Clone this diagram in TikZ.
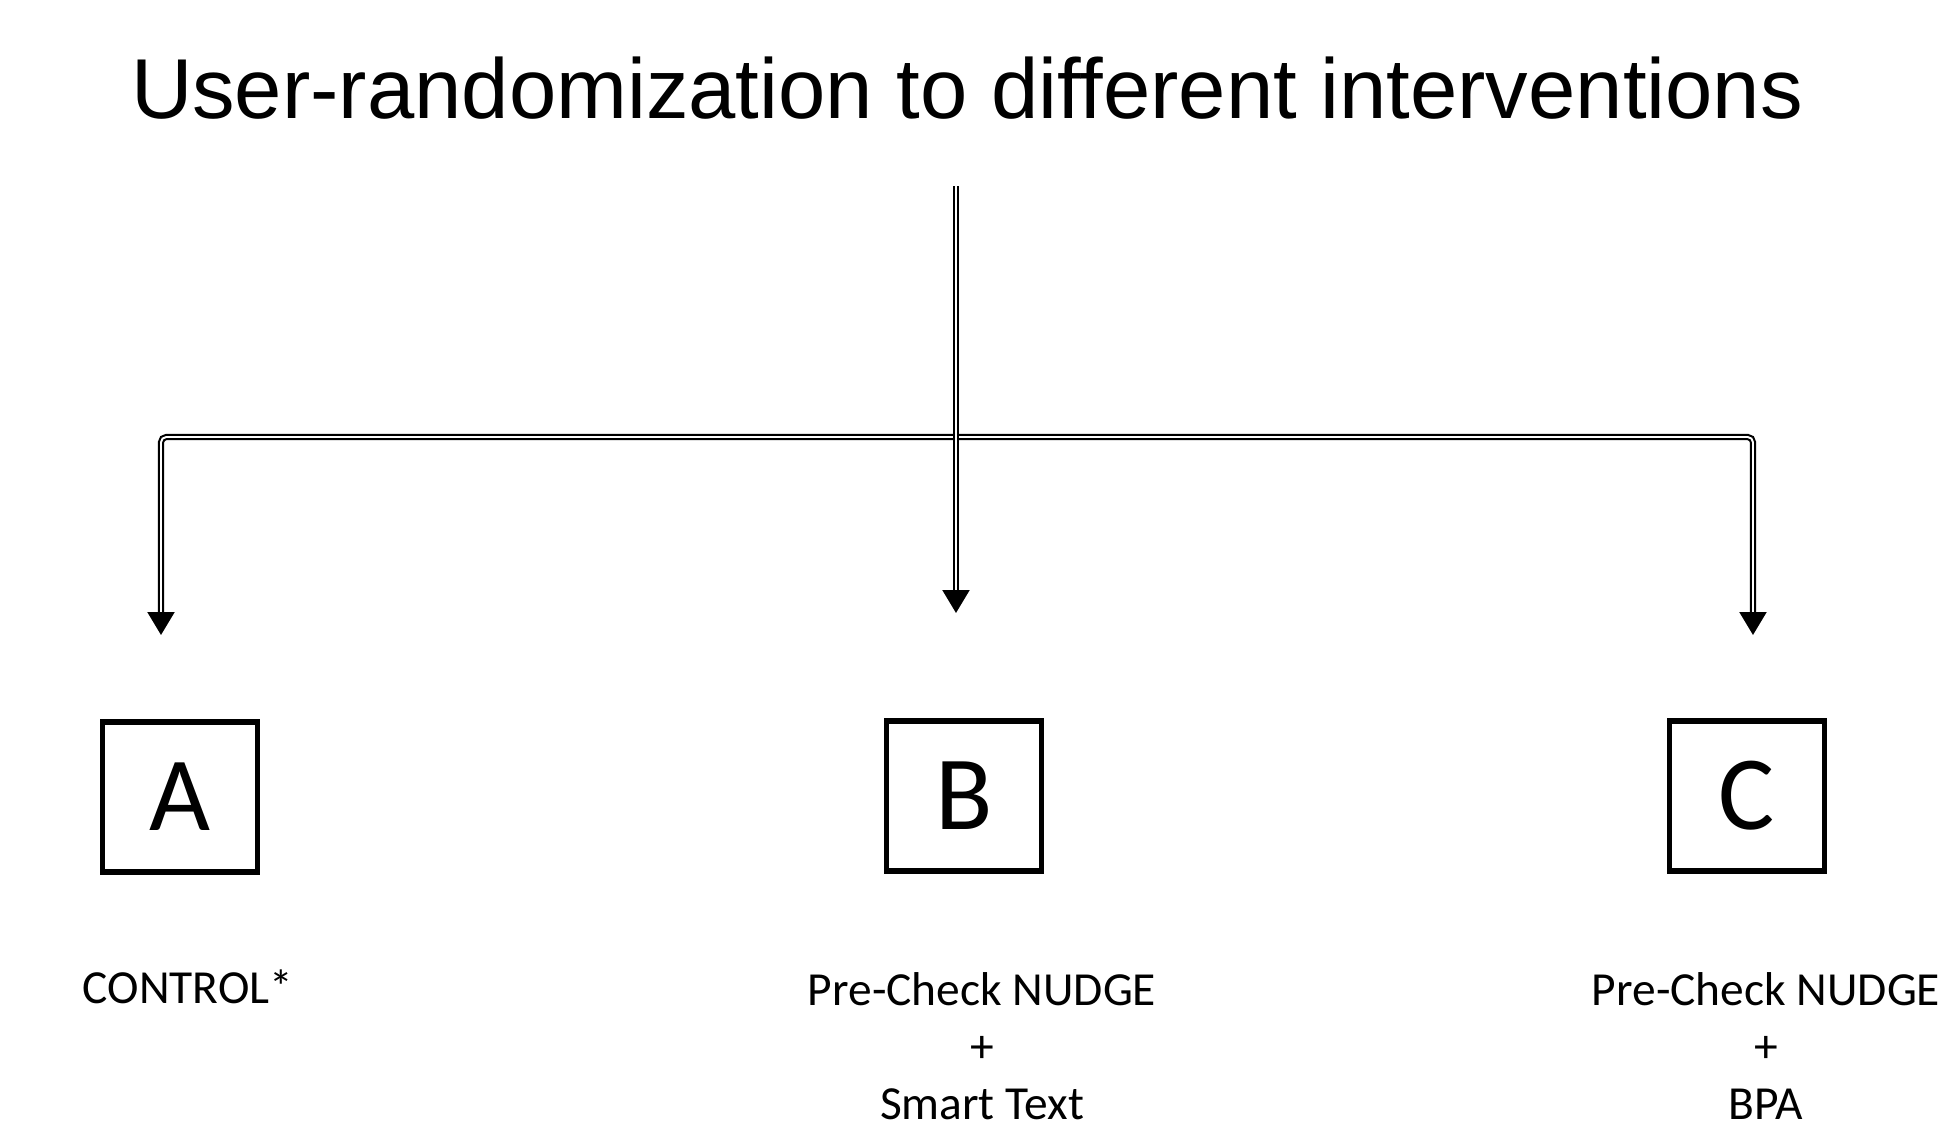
\documentclass[tikz,border=0pt]{standalone}
\usepackage{fontspec}
\setmainfont{Carlito}
\newfontfamily\arialfont{Liberation Sans}
\usetikzlibrary{arrows.meta}
\tikzset{>={Triangle[width=0.27cm,length=0.23cm]}}
\tikzset{dbl/.style={double, line width=0.6pt, double distance=0.55pt, ->, rounded corners=1.5pt}}
\tikzset{letterbox/.style={draw, line width=1.6pt, minimum width=1.55cm, minimum height=1.5cm,
  inner sep=0pt, font=\fontsize{30}{36}\selectfont}}
\tikzset{armlabel/.style={align=center, anchor=base, font=\fontsize{13.5}{16.2}\selectfont}}

\begin{document}
\begin{tikzpicture}
    \useasboundingbox (0, 0) rectangle (19.5, -11.31);
    \node[anchor=base, font=\arialfont\fontsize{24.2}{28}\selectfont] (title) at (9.67, -1.18)
        {User-randomization to different interventions};
    % arms
    \node[letterbox] (boxA) at (1.80, -7.97) {A};
    \node[letterbox] (boxB) at (9.64, -7.96) {B};
    \node[letterbox] (boxC) at (17.47, -7.96) {C};
    \node[armlabel] (labA) at (1.88, -10.03) {CONTROL*};
    \node[armlabel] (labB) at (9.82, -11.19) {Pre-Check NUDGE\\+\\Smart Text};
    \node[armlabel] (labC) at (17.66, -11.19) {Pre-Check NUDGE\\+\\BPA};
    % connectors
    \coordinate (top) at (9.56, -1.86);
    \coordinate (mid) at (9.56, -4.37);
    \coordinate (tipA) at (1.61, -6.35);
    \coordinate (tipB) at (9.56, -6.13);
    \coordinate (tipC) at (17.53, -6.35);
    \draw[dbl] (mid) -| (tipA);
    \draw[dbl] (mid) -| (tipC);
    \draw[dbl] (top) -- (tipB);
\end{tikzpicture}
\end{document}
